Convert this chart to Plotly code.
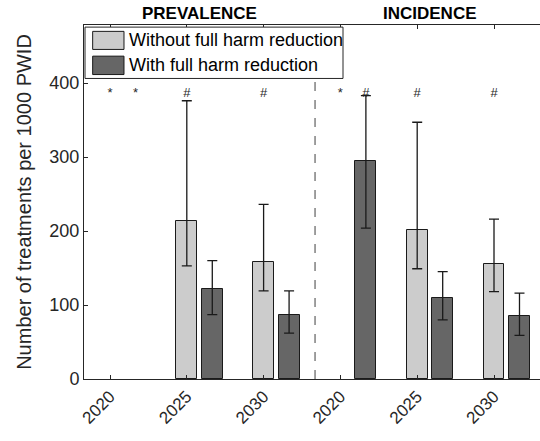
import plotly.graph_objects as go

# ---- data ----
tick_labels = ["2020", "2025", "2030", "2020", "2025", "2030"]
series_names = ["Without full harm reduction", "With full harm reduction"]

# Without full harm reduction (light)
without_val = [None, 213, 158, None, 201, 155]
without_lo = [None, 153, 119, None, 149, 118]
without_hi = [None, 376, 236, None, 347, 216]

# With full harm reduction (dark)
with_val = [None, 121, 87, 294, 110, 85]
with_lo = [None, 87, 62, 204, 80, 59]
with_hi = [None, 160, 119, 383, 145, 116]

# significance markers above bars
without_mark = ["*", "#", "#", "*", "#", "#"]
with_mark = ["*", "", "", "#", "", ""]
mark_level = 386

panel_titles = ["PREVALENCE", "INCIDENCE"]

# ---- layout constants ----
FONT = "Liberation Sans, Arial, sans-serif"
TXT = "#262626"
LIGHT = "#cccccc"
DARK = "#666666"
offset = 0.332
bw = 0.273
xpos = list(range(1, len(tick_labels) + 1))
x_light = xpos
x_dark = [x + offset for x in xpos]


def err(vals, lo, hi):
    up = [None if v is None else h - v for v, h in zip(vals, hi)]
    dn = [None if v is None else v - l for v, l in zip(vals, lo)]
    return up, dn


fig = go.Figure()
for xs, vals, lo, hi, col, name in [
    (x_light, without_val, without_lo, without_hi, LIGHT, series_names[0]),
    (x_dark, with_val, with_lo, with_hi, DARK, series_names[1]),
]:
    up, dn = err(vals, lo, hi)
    fig.add_trace(go.Bar(
        x=xs, y=vals, width=bw, name=name, showlegend=False,
        marker=dict(color=col, line=dict(color="#1a1a1a", width=1)),
        error_y=dict(type="data", symmetric=False, array=up, arrayminus=dn,
                     color="#1a1a1a", thickness=1.3, width=5),
    ))

for xs, marks in [(x_light, without_mark), (x_dark, with_mark)]:
    fig.add_trace(go.Scatter(
        x=xs, y=[mark_level] * len(xs), mode="text", text=marks,
        textposition="middle center", showlegend=False,
        textfont=dict(family=FONT, size=13, color=TXT), hoverinfo="skip",
    ))

# vertical dashed divider
fig.add_shape(type="line", xref="x", yref="paper", x0=3.67, x1=3.67, y0=0, y1=1,
              line=dict(color="#808080", width=1.5, dash="dash"))

# panel titles centred over the 2025 groups
for gx, t in zip([2 + offset / 2, 5 + offset / 2], panel_titles):
    fig.add_annotation(x=gx, xref="x", y=1.033, yref="paper", text="<b>%s</b>" % t,
                       showarrow=False, yanchor="middle", xanchor="center",
                       font=dict(family=FONT, size=17, color="#000000"))

# manual legend (box, patches, labels)
fig.add_shape(type="rect", xref="paper", yref="paper", x0=0.0022, x1=0.568, y0=0.849, y1=0.994,
              line=dict(color="#262626", width=1), fillcolor="white", layer="above")
for (y0, y1, col, name) in [(0.931, 0.982, LIGHT, series_names[0]),
                            (0.860, 0.912, DARK, series_names[1])]:
    fig.add_shape(type="rect", xref="paper", yref="paper", x0=0.019, x1=0.0877, y0=y0, y1=y1,
                  line=dict(color="#1a1a1a", width=1), fillcolor=col, layer="above")
    fig.add_annotation(x=0.0936, xref="paper", y=(y0 + y1) / 2, yref="paper", text=name,
                       showarrow=False, xanchor="left", yanchor="middle",
                       font=dict(family=FONT, size=18, color="#000000"))

fig.update_layout(
    width=540, height=441,
    margin=dict(l=84, r=0, t=25, b=62, pad=0),
    plot_bgcolor="white", paper_bgcolor="white",
    barmode="overlay", bargap=0,
    font=dict(family=FONT, size=18, color=TXT),
    xaxis=dict(range=[0.6615, 6.599], tickvals=xpos, ticktext=tick_labels,
               tickangle=-45, ticks="inside", ticklen=4, tickcolor=TXT,
               showline=True, linecolor=TXT, linewidth=1, mirror="ticks",
               showgrid=False, zeroline=False, automargin=False,
               tickfont=dict(family=FONT, size=17, color=TXT)),
    yaxis=dict(range=[0, 478.4], tickvals=[0, 100, 200, 300, 400],
               ticks="inside", ticklen=4, tickcolor=TXT,
               showline=True, linecolor=TXT, linewidth=1, mirror=False,
               showgrid=False, zeroline=False, automargin=False,
               tickfont=dict(family=FONT, size=18, color=TXT),
               title=dict(text="Number of treatments per 1000 PWID",
                          font=dict(family=FONT, size=20, color=TXT), standoff=12)),
)

fig.write_html("out.html", config={"displayModeBar": False},
               post_script="document.body.style.margin='0px';document.body.style.overflow='hidden';")
